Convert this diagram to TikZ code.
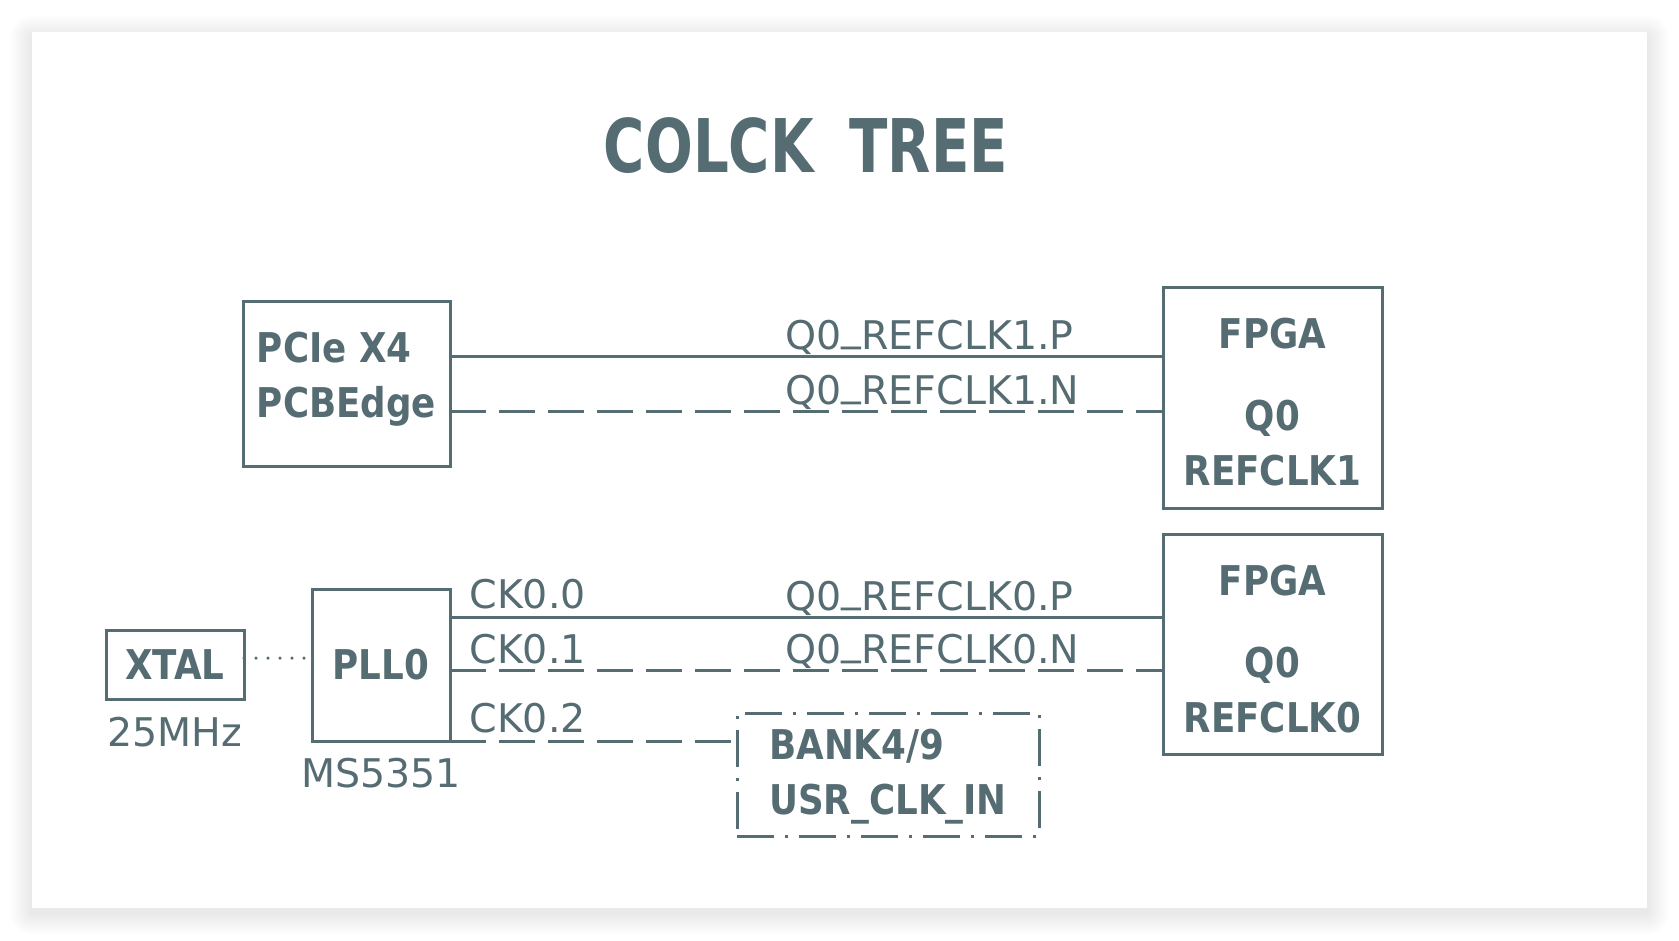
\documentclass[tikz,border=0pt]{standalone}
\usepackage{fontspec}
\usetikzlibrary{positioning}
\newfontfamily\boxfont{DejaVu Sans}[FakeStretch=0.87]
\newfontfamily\titlefont{DejaVu Sans}[FakeStretch=0.76]
\newfontfamily\netfont{DejaVu Sans}
\definecolor{slate}{RGB}{85,108,115}
\newcommand\netus{\raisebox{0.21em}{\_}}
\begin{document}
\begin{tikzpicture}[x=1pt,y=-1pt,
  blk/.style={draw=slate, line width=3pt, rectangle, inner sep=0pt, outer sep=0pt, text=slate,
    font=\boxfont\bfseries\fontsize{41}{55}\selectfont},
  net/.style={text=slate, inner sep=0pt, font=\netfont\fontsize{39.5}{48}\selectfont},
  sig/.style={draw=slate, line width=3pt},
  neg/.style={sig, dash pattern=on 36pt off 13pt}]
\useasboundingbox (0,0) rectangle (1679,940);
\fill[white] (0,0) rectangle (1679,940);
% soft shadow of the card
\foreach \i in {1,...,22}
  \fill[black, opacity=0.0035, rounded corners=\i pt] (32-\i,32-\i+5) rectangle (1647+\i,908+\i+5);
\fill[white] (32,32) rectangle (1647,908);
\node[text=slate, font=\titlefont\bfseries\fontsize{74}{80}\selectfont] (title) at (806,146) {COLCK\hspace{0.22em} TREE};
% blocks
\node[blk, minimum width=207pt, minimum height=165pt, align=left] (pcie) at (346.5,383.5)
  {PCIe X4\\PCBEdge\rule[-18pt]{0pt}{18pt}};
\node[blk, minimum width=219pt, minimum height=221pt, align=center] (fpga1) at (1272.5,397.5)
  {\rule{0pt}{40pt}FPGA\\[27pt]Q0\\REFCLK1};
\node[blk, minimum width=219pt, minimum height=220pt, align=center] (fpga0) at (1272.5,644)
  {\rule{0pt}{40pt}FPGA\\[27pt]Q0\\REFCLK0};
\node[blk, minimum width=138pt, minimum height=69pt] (xtal) at (175,664.5) {XTAL};
\node[blk, minimum width=138pt, minimum height=152pt] (pll) at (381,665) {PLL0};
\node[blk, minimum width=302pt, minimum height=123pt, align=left,
  dash pattern=on 37pt off 11pt on 3pt off 11pt] (bank) at (888,774.5)
  {\rule{0pt}{34pt}BANK4/9\\USR\_CLK\_IN};
\node[net, below=18pt of xtal] (xfreq) {25MHz};
\node[net, below=17pt of pll] (pllpart) {MS5351};
% taps
\coordinate (p1p) at ([yshift=27.5pt]pcie.east);
\coordinate (p1n) at ([yshift=-27.5pt]pcie.east);
\coordinate (ck0) at ([yshift=48pt]pll.east);
\coordinate (ck1) at ([yshift=-5pt]pll.east);
\coordinate (ck2) at (pll.south east);
\coordinate (xo) at ([yshift=6.5pt]xtal.east);
% nets
\draw[sig] (p1p) -- node[net, pos=0, anchor=base west, xshift=334pt, yshift=7pt] (n1p) {Q0\netus REFCLK1.P} (p1p -| fpga1.west);
\draw[neg] (p1n) -- node[net, pos=0, anchor=base west, xshift=334pt, yshift=7pt] (n1n) {Q0\netus REFCLK1.N} (p1n -| fpga1.west);
\draw[sig] (ck0) -- node[net, pos=0, anchor=base west, xshift=18pt, yshift=9pt] (c0) {CK0.0}
  node[net, pos=0, anchor=base west, xshift=334pt, yshift=7pt] (n0p) {Q0\netus REFCLK0.P} (ck0 -| fpga0.west);
\draw[neg] (ck1) -- node[net, pos=0, anchor=base west, xshift=18pt, yshift=7pt] (c1) {CK0.1}
  node[net, pos=0, anchor=base west, xshift=334pt, yshift=7pt] (n0n) {Q0\netus REFCLK0.N} (ck1 -| fpga0.west);
\draw[neg] (ck2) -- node[net, pos=0, anchor=base west, xshift=18pt, yshift=9pt] (c2) {CK0.2} (ck2 -| bank.west);
\draw[draw=slate, line width=3.5pt, line cap=round, dash pattern=on 0pt off 12pt] (xo) -- (xo -| pll.west);
\end{tikzpicture}
\end{document}
